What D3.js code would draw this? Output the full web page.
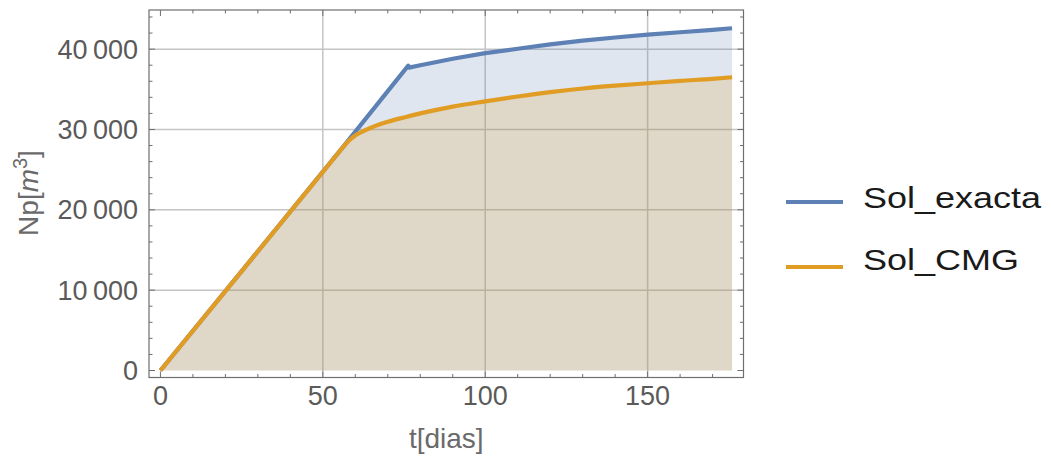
<!DOCTYPE html>
<html>
<head>
<meta charset="utf-8">
<script src="https://cdn.jsdelivr.net/npm/d3@7"></script>
<style>
  body { margin: 0; background: #fff; }
  text { font-family: "Liberation Sans", Arial, sans-serif; }
</style>
</head>
<body>
<div id="chart"></div>
<script>
// Sol_exacta
const exactaT = [0, 56, 76.3, 76.5, 80, 90, 100, 110, 120, 130, 140, 150, 160, 170, 176];
const exactaNp = [0, 27700, 37950, 37700, 38000, 38800, 39500, 40050, 40600, 41050, 41450, 41800, 42100, 42400, 42600];
// Sol_CMG
const cmgT = [0, 20, 50, 54, 56, 58, 60, 62, 65, 70, 75, 80, 90, 100, 110, 120, 130, 140, 150, 160, 170, 176];
const cmgNp = [0, 9890, 24730, 26710, 27700, 28600, 29250, 29700, 30250, 30950, 31500, 32000, 32850, 33500, 34100, 34650, 35100, 35450, 35750, 36050, 36300, 36500];

const xTicks = [0, 50, 100, 150];
const yTicks = [0, 10000, 20000, 30000, 40000];
const seriesNames = ["Sol_exacta", "Sol_CMG"];
const colors = ["#5e81b5", "#e19c24"];

const W = 1051, H = 462;
const frame = { left: 149, right: 743.5, top: 10, bottom: 377.5 };

const svg = d3.select("#chart").append("svg")
    .attr("width", W)
    .attr("height", H);

const x = d3.scaleLinear().domain([-3.52, 179.52]).range([frame.left, frame.right]);
const y = d3.scaleLinear().domain([-870, 44870]).range([frame.bottom, frame.top]);

// grid
const grid = svg.append("g");
grid.selectAll(".gx").data(xTicks.filter(d => d > 0)).enter().append("line")
    .attr("x1", d => x(d)).attr("x2", d => x(d))
    .attr("y1", frame.top).attr("y2", frame.bottom)
    .attr("stroke", "#c4c4c4").attr("stroke-width", 1.5);
grid.selectAll(".gy").data(yTicks.filter(d => d > 0)).enter().append("line")
    .attr("y1", d => y(d)).attr("y2", d => y(d))
    .attr("x1", frame.left).attr("x2", frame.right)
    .attr("stroke", "#c4c4c4").attr("stroke-width", 1.5);

const series = [
    exactaT.map((t, i) => [t, exactaNp[i]]),
    cmgT.map((t, i) => [t, cmgNp[i]])
];
const curves = [d3.curveLinear, d3.curveMonotoneX];

// fills to axis
series.forEach((s, i) => {
    const area = d3.area().curve(curves[i])
        .x(d => x(d[0])).y0(y(0)).y1(d => y(d[1]));
    svg.append("path").datum(s)
        .attr("d", area)
        .attr("fill", colors[i])
        .attr("fill-opacity", 0.2);
});

// lines
series.forEach((s, i) => {
    const line = d3.line().curve(curves[i]).x(d => x(d[0])).y(d => y(d[1]));
    svg.append("path").datum(s)
        .attr("d", line)
        .attr("fill", "none")
        .attr("stroke", colors[i])
        .attr("stroke-width", 4.2)
        .attr("stroke-linejoin", "round");
});

// frame
svg.append("rect")
    .attr("x", frame.left).attr("y", frame.top)
    .attr("width", frame.right - frame.left)
    .attr("height", frame.bottom - frame.top)
    .attr("fill", "none")
    .attr("stroke", "#6e6e6e")
    .attr("stroke-width", 1.2);

// ticks (inward, all four sides)
const ticks = svg.append("g").attr("stroke", "#6e6e6e").attr("stroke-width", 1);
const xMinor = d3.range(0, 180, 10);
const yMinor = d3.range(0, 44001, 2000);
xMinor.forEach(t => {
    const len = t % 50 === 0 ? 6 : 3.5;
    ticks.append("line").attr("x1", x(t)).attr("x2", x(t)).attr("y1", frame.bottom).attr("y2", frame.bottom - len);
    ticks.append("line").attr("x1", x(t)).attr("x2", x(t)).attr("y1", frame.top).attr("y2", frame.top + len);
});
yMinor.forEach(v => {
    const len = v % 10000 === 0 ? 6 : 3.5;
    ticks.append("line").attr("y1", y(v)).attr("y2", y(v)).attr("x1", frame.left).attr("x2", frame.left + len);
    ticks.append("line").attr("y1", y(v)).attr("y2", y(v)).attr("x1", frame.right).attr("x2", frame.right - len);
});

// tick labels
const fmt = d => d === 0 ? "0" : d3.format(",")(d).replace(",", "\u2009");
svg.selectAll(".xl").data(xTicks).enter().append("text")
    .attr("x", d => x(d)).attr("y", 405)
    .attr("text-anchor", "middle")
    .attr("font-size", 27).attr("fill", "#5a5a5a")
    .text(d => d);
svg.selectAll(".yl").data(yTicks).enter().append("text")
    .attr("x", 138).attr("y", d => y(d))
    .attr("dy", "0.35em")
    .attr("text-anchor", "end")
    .attr("font-size", 27).attr("fill", "#5a5a5a")
    .text(fmt);

// axis labels
svg.append("text")
    .attr("x", x(88)).attr("y", 448)
    .attr("text-anchor", "middle")
    .attr("font-size", 28).attr("fill", "#6a6a6a")
    .text("t[dias]");

const yl = svg.append("text")
    .attr("transform", "translate(38,193) rotate(-90)")
    .attr("text-anchor", "middle")
    .attr("font-size", 28).attr("fill", "#6a6a6a");
yl.append("tspan").text("Np[");
yl.append("tspan").attr("font-style", "italic").text("m");
yl.append("tspan").attr("font-size", 20).attr("dy", -11).text("3");
yl.append("tspan").attr("dy", 11).text("]");

// legend
const legend = svg.append("g");
const legendY = [202, 267];
const legendBase = [208, 270];
seriesNames.forEach((name, i) => {
    legend.append("line")
        .attr("x1", 786).attr("x2", 843)
        .attr("y1", legendY[i]).attr("y2", legendY[i])
        .attr("stroke", colors[i]).attr("stroke-width", 4);
    legend.append("text")
        .attr("transform", `translate(863,${legendBase[i]}) scale(1.2,1)`)
        .attr("font-size", 30).attr("fill", "#1a1a1a")
        .text(name);
});
</script>
</body>
</html>
